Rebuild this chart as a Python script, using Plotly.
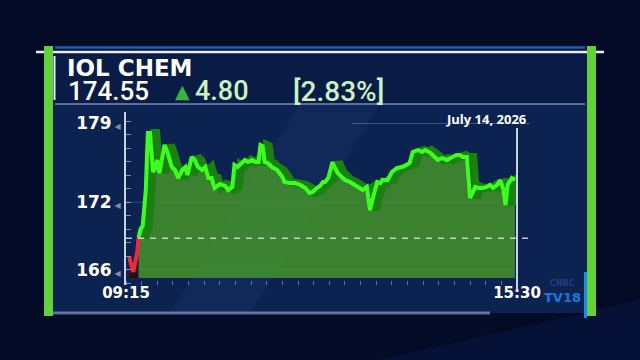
import pandas as pd
import plotly.graph_objects as go

# ---------------- data ----------------
STOCK_NAME = "IOL CHEM"
LAST_PRICE = "174.55"
CHANGE = "4.80"
CHANGE_PCT = "2.83%"
DATE_LABEL = "July 14, 2026"
TRADE_DATE = "2026-07-14"

times = [
    "09:18", "09:20", "09:22", "09:24", "09:26", "09:27", "09:29", "09:31", "09:32", "09:34",
    "09:35", "09:36", "09:38", "09:40", "09:41", "09:43", "09:45", "09:47", "09:50", "09:52",
    "09:55", "09:59", "10:02", "10:05", "10:09", "10:12", "10:14", "10:18", "10:21", "10:24",
    "10:28", "10:31", "10:34", "10:37", "10:40", "10:45", "10:50", "10:53", "10:57", "10:59",
    "11:02", "11:06", "11:09", "11:12", "11:16", "11:19", "11:22", "11:24", "11:26", "11:28",
    "11:31", "11:35", "11:40", "11:45", "11:47", "11:52", "11:57", "12:02", "12:07", "12:11",
    "12:14", "12:18", "12:21", "12:24", "12:26", "12:29", "12:33", "12:35", "12:38", "12:42",
    "12:45", "12:50", "12:55", "12:59", "13:02", "13:06", "13:09", "13:12", "13:16", "13:19",
    "13:21", "13:26", "13:30", "13:35", "13:40", "13:44", "13:47", "13:50", "13:55", "13:59",
    "14:02", "14:07", "14:11", "14:14", "14:18", "14:23", "14:28", "14:32", "14:35", "14:38",
    "14:42", "14:45", "14:50", "14:53", "14:57", "15:01", "15:04", "15:07", "15:11", "15:14",
    "15:17", "15:19", "15:21", "15:25", "15:28",
]
prices = [
    167.14, 166.43, 165.81, 166.70, 167.76, 168.83, 169.63, 169.89, 171.14, 173.09,
    175.76, 178.15, 178.15, 175.76, 174.69, 175.05, 175.76, 174.60, 176.02, 177.09,
    176.38, 175.13, 174.87, 174.16, 174.87, 175.13, 174.42, 176.02, 175.76, 175.13,
    174.87, 175.13, 174.16, 174.16, 173.27, 173.62, 173.45, 173.09, 173.36, 175.31,
    175.13, 175.49, 175.76, 175.58, 175.76, 175.58, 175.58, 177.09, 177.00, 175.58,
    175.49, 175.13, 174.87, 174.25, 173.80, 173.71, 173.71, 173.54, 173.27, 172.83,
    172.91, 173.27, 173.45, 173.80, 173.80, 174.16, 175.58, 175.13, 174.60, 174.25,
    173.98, 173.80, 173.54, 173.27, 173.09, 173.36, 171.30, 172.47, 173.80, 173.71,
    173.98, 173.98, 174.69, 175.05, 175.13, 175.31, 175.49, 176.47, 176.64, 176.47,
    176.64, 176.38, 176.02, 175.76, 175.93, 175.76, 176.02, 176.20, 176.20, 176.02,
    176.02, 172.38, 173.36, 173.27, 173.27, 173.36, 173.54, 173.27, 173.54, 173.98,
    173.09, 171.75, 173.54, 174.16, 173.98,
]
RED_POINTS = 6            # first points that sit below the reference line
REF_LEVEL = 168.8         # dashed reference line
y_tick_values = [166, 172, 179]
x_tick_labels = ["09:15", "15:30"]

# ---------------- style constants ----------------
W, H = 640, 360
FILL_BASE = 165.28
Y_RANGE = [164.65, 180.02]
FONT = "DejaVu Sans"
NUM_FONT = "Roboto"


def px(x):
    return x / W


def py(y):
    return 1 - y / H


x = pd.to_datetime([f"{TRADE_DATE} {t}" for t in times])
x_ticks = pd.to_datetime([f"{TRADE_DATE} {t}" for t in x_tick_labels])
shadow_x = x + pd.Timedelta(minutes=6)
n = len(prices)

fig = go.Figure()

# red opening segment fill
fig.add_trace(go.Scatter(x=x[:RED_POINTS], y=[FILL_BASE] * RED_POINTS, mode="lines",
                         line=dict(width=0), hoverinfo="skip", showlegend=False))
fig.add_trace(go.Scatter(x=x[:RED_POINTS], y=prices[:RED_POINTS], mode="lines",
                         line=dict(width=0), fill="tonexty",
                         fillcolor="rgba(45,8,20,0.85)", hoverinfo="skip", showlegend=False))
# green area fill
g0 = RED_POINTS - 1
fig.add_trace(go.Scatter(x=x[g0:], y=[FILL_BASE] * (n - g0), mode="lines",
                         line=dict(width=0), hoverinfo="skip", showlegend=False))
fig.add_trace(go.Scatter(x=x[g0:], y=prices[g0:], mode="lines",
                         line=dict(width=0), fill="tonexty",
                         fillcolor="rgba(70,150,42,0.82)", hoverinfo="skip", showlegend=False))
# ribbon depth (shadow)
fig.add_trace(go.Scatter(x=shadow_x[g0:], y=prices[g0:], mode="lines",
                         line=dict(color="#1b8010", width=8, shape="linear"),
                         hoverinfo="skip", showlegend=False))
# main lines
fig.add_trace(go.Scatter(x=x[g0:], y=prices[g0:], mode="lines",
                         line=dict(color="#3cff1e", width=4), showlegend=False))
fig.add_trace(go.Scatter(x=x[:RED_POINTS], y=prices[:RED_POINTS], mode="lines",
                         line=dict(color="#f0283e", width=4), showlegend=False))

shapes = [
    # panel backgrounds
    dict(type="rect", xref="paper", yref="paper", x0=px(53), x1=px(587), y0=py(104), y1=py(52),
         fillcolor="#0a1c45", line=dict(width=0), layer="below"),
    dict(type="rect", xref="paper", yref="paper", x0=px(53), x1=px(587), y0=py(313), y1=py(104),
         fillcolor="#0c2351", line=dict(width=0), layer="below"),
    dict(type="path", xref="paper", yref="paper",
         path=f"M {px(300)},{py(104)} L {px(380)},{py(104)} L {px(250)},{py(313)} L {px(170)},{py(313)} Z",
         fillcolor="rgba(60,100,170,0.10)", line=dict(width=0), layer="below"),
    dict(type="path", xref="paper", yref="paper",
         path=f"M {px(380)},{py(360)} L {px(640)},{py(360)} L {px(640)},{py(300)} Z",
         fillcolor="rgba(25,65,170,0.12)", line=dict(width=0), layer="below"),
    # top blue + white rims
    dict(type="line", xref="paper", yref="paper", x0=px(55), x1=px(585), y0=py(47.5), y1=py(47.5),
         line=dict(color="#1565c8", width=2.5), layer="below"),
    dict(type="line", xref="paper", yref="paper", x0=px(36), x1=px(604), y0=py(52), y1=py(52),
         line=dict(color="#e9eef8", width=2.5), layer="below"),
    dict(type="line", xref="paper", yref="paper", x0=px(55), x1=px(585), y0=py(104), y1=py(104),
         line=dict(color="rgba(150,175,220,0.75)", width=1.5), layer="below"),
    dict(type="line", xref="paper", yref="paper", x0=px(45), x1=px(490), y0=py(313), y1=py(313),
         line=dict(color="rgba(170,190,230,0.55)", width=3), layer="below"),
    dict(type="line", xref="paper", yref="paper", x0=px(54.5), x1=px(54.5), y0=py(100), y1=py(56),
         line=dict(color="#e9eef8", width=2), layer="below"),
    # green side bars
    dict(type="rect", xref="paper", yref="paper", x0=px(44), x1=px(53), y0=py(316), y1=py(46),
         fillcolor="#62d13c", line=dict(width=0), layer="above"),
    dict(type="rect", xref="paper", yref="paper", x0=px(587), x1=px(596), y0=py(316), y1=py(46),
         fillcolor="#62d13c", line=dict(width=0), layer="above"),
    dict(type="rect", xref="paper", yref="paper", x0=px(584), x1=px(587), y0=py(318), y1=py(272),
         fillcolor="#1e88e5", line=dict(width=0), layer="above"),
    # grid lines
    dict(type="line", xref="x domain", yref="y", x0=0, x1=1, y0=y_tick_values[0], y1=y_tick_values[0],
         line=dict(color="rgba(190,205,235,0.22)", width=1), layer="below"),
    dict(type="line", xref="x domain", yref="y", x0=0, x1=1, y0=y_tick_values[1], y1=y_tick_values[1],
         line=dict(color="rgba(190,205,235,0.22)", width=1), layer="below"),
    dict(type="line", xref="paper", yref="y", x0=px(352), x1=px(530), y0=y_tick_values[2], y1=y_tick_values[2],
         line=dict(color="rgba(150,175,220,0.35)", width=1), layer="below"),
    # reference dashed line
    dict(type="line", xref="x domain", yref="y", x0=0, x1=1.03, y0=REF_LEVEL, y1=REF_LEVEL,
         line=dict(color="rgba(215,225,240,0.85)", width=1.5, dash="6px,6px"), layer="above"),
    # closing-time marker line
    dict(type="line", xref="x domain", yref="paper", x0=1, x1=1, y0=py(290), y1=py(128),
         line=dict(color="#c9d2e3", width=2), layer="above"),
]

annotations = [
    dict(text=f"<b>{STOCK_NAME}</b>", x=px(66), y=py(68), xref="paper", yref="paper",
         xanchor="left", yanchor="middle", showarrow=False, borderpad=0,
         font=dict(family=FONT, size=23, color="white")),
    dict(text=LAST_PRICE, x=px(67), y=py(91), xref="paper", yref="paper",
         xanchor="left", yanchor="middle", showarrow=False, borderpad=0,
         font=dict(family=NUM_FONT, size=26, color="white", weight=500)),
    dict(text="▲", x=px(182), y=py(91), xref="paper", yref="paper",
         xanchor="center", yanchor="middle", showarrow=False, borderpad=0,
         font=dict(family=FONT, size=19, color="#36b43c")),
    dict(text=CHANGE, x=px(194), y=py(91), xref="paper", yref="paper",
         xanchor="left", yanchor="middle", showarrow=False, borderpad=0,
         font=dict(family=NUM_FONT, size=27, color="#caf2c2", weight=500)),
    dict(text=f"[{CHANGE_PCT}]", x=px(292), y=py(91), xref="paper", yref="paper",
         xanchor="left", yanchor="middle", showarrow=False, borderpad=0,
         font=dict(family=NUM_FONT, size=28, color="#caf2c2", weight=500)),
    dict(text=f"<b>{DATE_LABEL}</b>", x=px(486), y=py(119), xref="paper", yref="paper",
         xanchor="center", yanchor="middle", showarrow=False,
         font=dict(family="Open Sans", size=13, color="white")),
    dict(text="<b>CNBC</b>", x=px(562), y=py(283), xref="paper", yref="paper",
         xanchor="center", yanchor="middle", showarrow=False, borderpad=0,
         font=dict(family=FONT, size=8, color="#1d3f86")),
    dict(text="<b>TV18</b>", x=px(562), y=py(297), xref="paper", yref="paper",
         xanchor="center", yanchor="middle", showarrow=False, borderpad=0,
         font=dict(family=FONT, size=13, color="#1b78d8")),
]

fig.update_layout(
    width=W, height=H,
    margin=dict(l=0, r=0, t=0, b=0, autoexpand=False),
    paper_bgcolor="#030b27",
    plot_bgcolor="rgba(0,0,0,0)",
    showlegend=False,
    shapes=shapes,
    annotations=annotations,
    xaxis=dict(
        type="date",
        domain=[px(126), px(517)],
        range=[x_ticks[0], x_ticks[1]],
        tickmode="array", tickvals=list(x_ticks), ticktext=x_tick_labels,
        tickfont=dict(family=FONT, size=15, color="white", weight="bold"),
        ticklabelstandoff=-3,
        ticks="", showgrid=False, zeroline=False, showline=False, automargin=False,
        minor=dict(ticks="inside", ticklen=4, tickcolor="rgba(190,205,235,0.45)",
                   dtick=15 * 60 * 1000, showgrid=False),
        fixedrange=True,
    ),
    yaxis=dict(
        domain=[py(285), py(112)],
        range=Y_RANGE,
        tickmode="array", tickvals=y_tick_values,
        ticktext=[f"{v}<span style='font-size:8px;color:#7d8db0'> ◀</span>" for v in y_tick_values],
        tickfont=dict(family=FONT, size=17, color="white", weight="bold"),
        ticks="", showgrid=False, zeroline=False, automargin=False,
        showline=True, linecolor="#c9d2e3", linewidth=2,
        minor=dict(tickmode="linear", tick0=166, dtick=1.2, ticks="inside", ticklen=5,
                   tickcolor="rgba(200,212,235,0.6)", showgrid=False),
        fixedrange=True,
    ),
)

fig.write_html("out.html")
